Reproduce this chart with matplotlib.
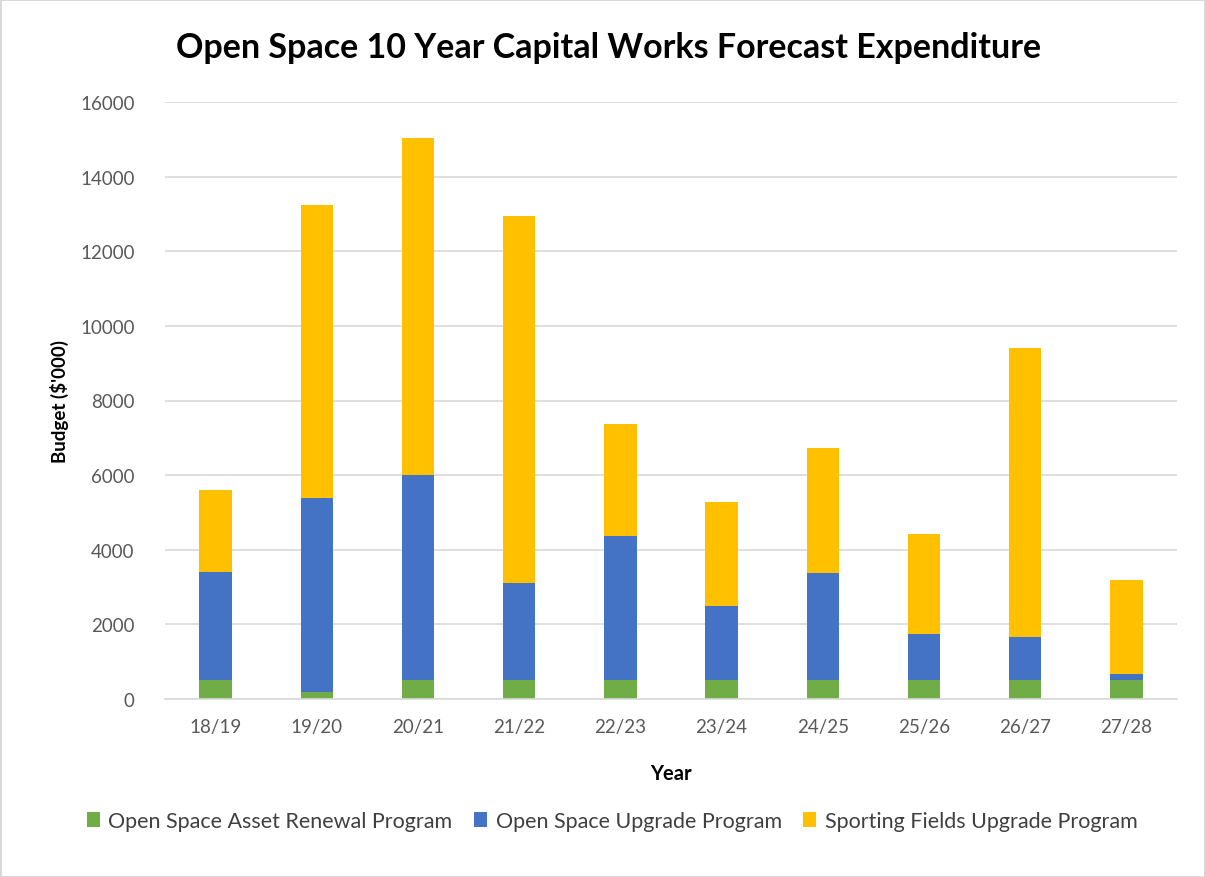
import matplotlib.pyplot as plt
import numpy as np

years = ["18/19", "19/20", "20/21", "21/22", "22/23", "23/24", "24/25", "25/26", "26/27", "27/28"]
asset_renewal = [500, 180, 500, 500, 500, 500, 500, 500, 500, 500]
space_upgrade = [2900, 5220, 5500, 2600, 3880, 2000, 2870, 1250, 1150, 180]
sporting_upgrade = [2200, 7850, 9030, 9850, 3000, 2780, 3360, 2670, 7770, 2510]

plt.rcParams['font.family'] = ['Lato', 'DejaVu Sans']

fig = plt.figure(figsize=(12.05, 8.78), dpi=100)
fig.patch.set_edgecolor('#d9d9d9')
fig.patch.set_linewidth(2)
ax = fig.add_axes([165 / 1205, 1 - 700 / 878, (1177 - 165) / 1205, (700 - 103) / 878])

x = np.arange(len(years))
w = 0.32
green = ax.bar(x, asset_renewal, w, color='#70ad47', label='Open Space Asset Renewal Program')
bottom = np.array(asset_renewal)
blue = ax.bar(x, space_upgrade, w, bottom=bottom, color='#4472c4', label='Open Space Upgrade Program')
bottom = bottom + np.array(space_upgrade)
yellow = ax.bar(x, sporting_upgrade, w, bottom=bottom, color='#ffc000', label='Sporting Fields Upgrade Program')

ax.set_xlim(-0.5, len(years) - 0.5)
ax.set_ylim(0, 16000)
ax.set_yticks(range(0, 16001, 2000))
ax.set_xticks(x)
ax.set_xticklabels(years)
ax.yaxis.grid(True, color='#d9d9d9', linewidth=1.2)
ax.set_axisbelow(True)
for s in ['top', 'right', 'left']:
    ax.spines[s].set_visible(False)
ax.spines['bottom'].set_color('#d9d9d9')
ax.spines['bottom'].set_linewidth(1.2)
ax.tick_params(axis='both', length=0, labelsize=13.5, labelcolor='#595959')
ax.tick_params(axis='x', pad=14)
ax.tick_params(axis='y', pad=22)

ax.set_xlabel('Year', fontsize=14.5, fontweight='bold', labelpad=20)
ax.set_ylabel("Budget ($'000)", fontsize=13.5, fontweight='bold', labelpad=8)
fig.text(0.505, 1 - 48 / 878, 'Open Space 10 Year Capital Works Forecast Expenditure',
         ha='center', va='center', fontsize=24.5, fontweight='bold')

fig.legend(handles=[green, blue, yellow], loc='center', bbox_to_anchor=(0.508, 1 - 822 / 878),
           ncol=3, frameon=False, fontsize=15.5, handlelength=0.6, handleheight=0.7,
           handletextpad=0.4, columnspacing=1.0, labelcolor='#404040')

fig.savefig('out.png', dpi=100, edgecolor=fig.get_edgecolor())
